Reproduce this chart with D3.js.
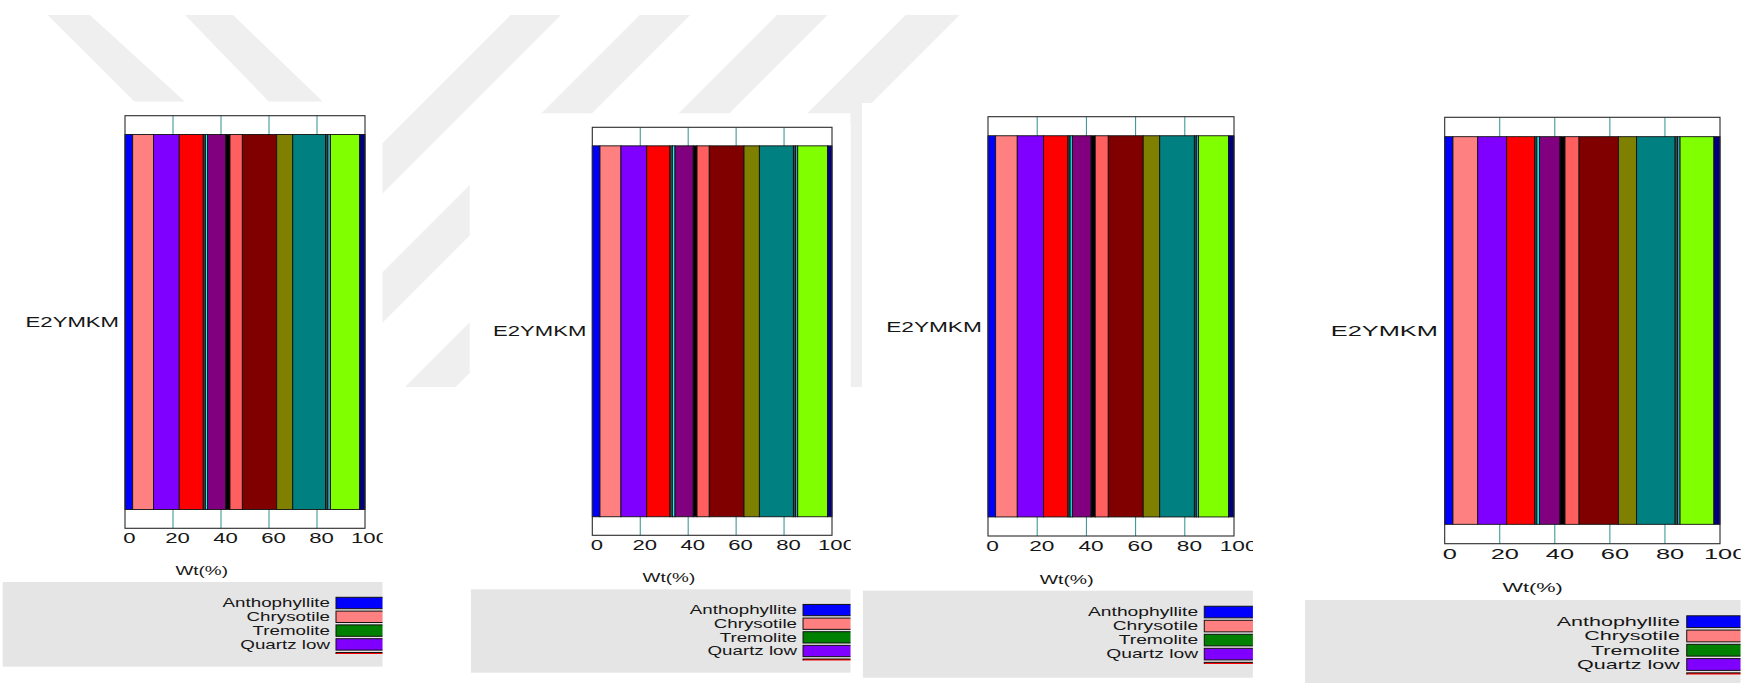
<!DOCTYPE html>
<html>
<head>
<meta charset="utf-8">
<script src="https://cdn.jsdelivr.net/npm/d3@7"></script>
<style>
  html, body { margin: 0; padding: 0; background: #fff; }
  svg { display: block; }
  text { font-family: "Liberation Sans", Arial, sans-serif; }
</style>
</head>
<body>
<svg id="chart" width="1753" height="683"></svg>
<script>
// ---- data -------------------------------------------------------------
const categories = ["E2YMKM"];

const phaseNames = [
  "Anthophyllite", "Chrysotile", "Tremolite", "Quartz low",
  "Phase 5", "Phase 6", "Phase 7", "Phase 8", "Phase 9", "Phase 10",
  "Phase 11", "Phase 12", "Phase 13", "Phase 14", "Phase 15", "Phase 16", "Phase 17"
];

const phaseColors = [
  "#0000ff", "#ff8080", "#008000", "#8000ff",
  "#ff0000", "#404040", "#00ffff", "#800080", "#000000", "#ff5f5f",
  "#800000", "#808000", "#008080", "#2f4f4f", "#40a0c0", "#80ff00", "#000080"
];

// Wt(%) per phase, one array per run
const wtRun1 = [3.2, 8.7, 0, 10.7, 10.0, 0.9, 0.9, 7.6, 1.75, 5.15, 14.3, 6.7, 13.7, 0.9, 1.1, 12.2, 2.2];
const wtRun2 = [3.2, 8.75, 0, 10.75, 9.7, 1.05, 1.05, 7.6, 1.6, 5.1, 14.5, 6.4, 14.2, 0.9, 0.9, 12.4, 1.9];
const wtRun3 = [3.1, 8.8, 0, 10.7, 9.9, 0.9, 0.9, 7.6, 1.7, 5.3, 14.2, 6.7, 14.1, 0.8, 0.9, 12.2, 2.2];
const wtRun4 = [3.0, 9.0, 0, 10.5, 10.2, 0.8, 0.9, 7.5, 1.8, 5.1, 14.3, 6.6, 14.0, 0.9, 0.9, 12.3, 2.2];

const xTicks = [0, 20, 40, 60, 80, 100];
const axisTitle = "Wt(%)";

// ---- layout -----------------------------------------------------------
const runs = [wtRun1, wtRun2, wtRun3, wtRun4];

const panels = [
  { clipL: 0,     clipR: 382.7,  bgTop: 101.7, L: 125,    R: 365,  T: 115.7, B: 528.3, legL: 2.7,    legTop: 582,   legBot: 666.7 },
  { clipL: 469.5, clipR: 850.7,  bgTop: 113.3, L: 592.3,  R: 832,  T: 127.3, B: 535.3, legL: 471,    legTop: 589.3, legBot: 672.7 },
  { clipL: 862,   clipR: 1252.9, bgTop: 103,   L: 988,    R: 1234, T: 116.7, B: 536,   legL: 862.9,  legTop: 590.7, legBot: 677.7 },
  { clipL: 1305,  clipR: 1740.7, bgTop: 100,   L: 1444.7, R: 1720, T: 117.3, B: 543.7, legL: 1305,   legTop: 600,   legBot: 690 }
];

// number of legend rows that fit in the visible legend area
const legendRowsShown = 4;

// faint diagonal background ornament
const ornament = [
  [[47.7, 15], [89.8, 15], [185, 101.7], [134.7, 101.7]],
  [[185, 15], [233, 15], [323, 101.7], [269, 101.7]],
  [[510.7, 15], [561, 15], [189, 387], [138.7, 387]],
  [[639.7, 15], [690.2, 15], [318.2, 387], [267.7, 387]],
  [[777, 15], [827.7, 15], [455.7, 387], [405, 387]],
  [[905.6, 15], [959.7, 15], [587.7, 387], [533.6, 387]],
  [[850.7, 100], [862, 100], [862, 387], [850.7, 387]]
];

const FONT = "'Liberation Sans', Arial, sans-serif";
const svg = d3.select("#chart");

svg.append("g").attr("fill", "#efefef")
  .selectAll("polygon").data(ornament).join("polygon")
  .attr("points", d => d.map(p => p.join(",")).join(" "));

panels.forEach((P, pi) => {
  const values = runs[pi];
  const kx = (P.R - P.L) / 240;
  const ky = (P.B - P.T) / 412.6;
  const sx = 1.58 * kx, sy = ky;

  const defs = svg.append("defs");
  defs.append("clipPath").attr("id", "panel" + pi)
    .append("rect").attr("x", P.clipL).attr("y", 0)
    .attr("width", P.clipR - P.clipL).attr("height", 683);

  const g = svg.append("g").attr("clip-path", `url(#panel${pi})`);

  g.append("rect")
    .attr("x", P.clipL).attr("y", P.bgTop)
    .attr("width", P.clipR - P.clipL).attr("height", 683 - P.bgTop)
    .attr("fill", "#fff");

  const x = d3.scaleLinear().domain([0, 100]).range([P.L, P.R]);
  const y = d3.scaleBand().domain(categories).range([P.T, P.B])
    .paddingInner(0).paddingOuter(0.05);

  // plot background
  g.append("rect")
    .attr("x", P.L).attr("y", P.T)
    .attr("width", P.R - P.L).attr("height", P.B - P.T)
    .attr("fill", "#fff");

  // vertical grid
  g.append("g").selectAll("line")
    .data(xTicks.filter(t => t > 0 && t < 100)).join("line")
    .attr("x1", d => x(d)).attr("x2", d => x(d))
    .attr("y1", P.T).attr("y2", P.B)
    .attr("stroke", "#2e8f8f").attr("stroke-width", 1);

  // stacked composition bar
  const row = { category: categories[0] };
  phaseNames.forEach((n, i) => { row[n] = values[i]; });
  const stacked = d3.stack().keys(phaseNames)([row]);

  g.append("g").selectAll("rect").data(stacked).join("rect")
    .attr("x", s => x(s[0][0]))
    .attr("width", s => x(s[0][1]) - x(s[0][0]))
    .attr("y", s => y(s[0].data.category))
    .attr("height", y.bandwidth())
    .attr("fill", (s, i) => phaseColors[i])
    .attr("stroke", "#111").attr("stroke-width", 0.9);

  // frame
  g.append("rect")
    .attr("x", P.L).attr("y", P.T)
    .attr("width", P.R - P.L).attr("height", P.B - P.T)
    .attr("fill", "none").attr("stroke", "#2b2b2b").attr("stroke-width", 1.1);

  // x axis labels
  const ax = g.append("g")
    .attr("transform", `translate(0,${P.B})`)
    .call(d3.axisBottom(x).tickValues(xTicks).tickSize(0).tickFormat(d3.format("d")));
  ax.select(".domain").remove();
  ax.selectAll("text")
    .attr("y", 0).attr("dy", null)
    .attr("font-size", 14).attr("font-family", FONT).attr("fill", "#161616")
    .attr("transform", `translate(${4 * kx},${15 * ky}) scale(${sx},${sy})`);

  // y axis category label
  const ay = g.append("g")
    .attr("transform", `translate(${P.L},0)`)
    .call(d3.axisLeft(y).tickSize(0));
  ay.select(".domain").remove();
  ay.selectAll("text")
    .attr("x", 0).attr("dy", null).attr("y", 0)
    .attr("text-anchor", "end")
    .attr("font-size", 14).attr("font-family", FONT).attr("fill", "#161616")
    .attr("transform", `translate(${-6 * kx},${5.2 * ky}) scale(${sx},${sy})`);

  // axis title
  g.append("text")
    .attr("text-anchor", "middle")
    .attr("font-size", 12).attr("fill", "#161616")
    .attr("transform", `translate(${(P.L + P.R) / 2 - 43.3 * kx},${P.B + 47 * ky}) scale(${sx},${sy})`)
    .text(axisTitle);

  // legend box
  g.append("rect")
    .attr("x", P.legL).attr("y", P.legTop)
    .attr("width", P.clipR - P.legL).attr("height", P.legBot - P.legTop)
    .attr("fill", "#e5e5e5");

  const step = 13.8 * ky, swH = 11.4 * ky;
  const sw0 = P.legTop + 15.3 * ky;
  const swL = P.R - 29 * kx;
  const legClipBottom = sw0 + legendRowsShown * step + 1.6;

  defs.append("clipPath").attr("id", "legend" + pi)
    .append("rect").attr("x", P.legL).attr("y", P.legTop)
    .attr("width", P.clipR - P.legL).attr("height", legClipBottom - P.legTop);

  const items = g.append("g").attr("clip-path", `url(#legend${pi})`)
    .selectAll("g").data(phaseNames).join("g")
    .attr("transform", (d, i) => `translate(0,${sw0 + i * step})`);

  items.append("rect")
    .attr("x", swL).attr("y", 0)
    .attr("width", 80).attr("height", swH)
    .attr("fill", (d, i) => phaseColors[i])
    .attr("stroke", "#111").attr("stroke-width", 1);

  items.filter((d, i) => i < legendRowsShown).append("text")
    .attr("text-anchor", "end")
    .attr("font-size", 12).attr("fill", "#161616")
    .attr("transform", `translate(${swL - 6 * kx},${10 * ky}) scale(${sx * 0.99},${sy})`)
    .text(d => d);
});
</script>
</body>
</html>
